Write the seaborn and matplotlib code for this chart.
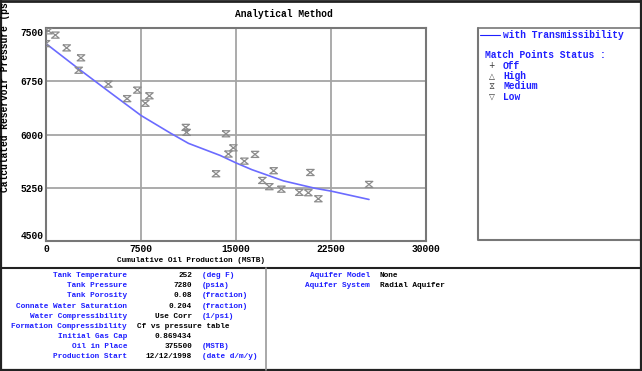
import numpy as np
import pandas as pd
import matplotlib
matplotlib.use("Agg")
import matplotlib.pyplot as plt
from matplotlib.path import Path
from matplotlib.lines import Line2D
from matplotlib import font_manager
from matplotlib.font_manager import FontProperties
import seaborn as sns

# ---------------- data ----------------
match_x = [200, 740, 0, 1630, 2760, 2580, 4920, 6400, 7210, 7840, 8160,
           11030, 11100, 14210, 13420, 14400, 14790, 15660, 16500, 17080,
           17630, 17970, 18580, 20000, 20710, 20870, 21500, 25500]
match_y = [7460, 7400, 7280, 7220, 7080, 6905, 6710, 6505, 6625, 6440, 6545,
           6100, 6030, 6010, 5447, 5725, 5812, 5625, 5720, 5353,
           5265, 5490, 5230, 5185, 5180, 5465, 5095, 5297]

line_x = [0, 2500, 5000, 7500, 9800, 11250, 13750, 15000, 16250, 18750, 21250, 22500, 25500]
line_y = [7280, 6935, 6600, 6268, 6022, 5875, 5705, 5600, 5505, 5347, 5242, 5203, 5085]

x_ticks = [0, 7500, 15000, 22500, 30000]
y_ticks = [4500, 5250, 6000, 6750, 7500]

table_labels = ["Tank Temperature", "Tank Pressure", "Tank Porosity",
                "Connate Water Saturation", "Water Compressibility",
                "Formation Compressibility", "Initial Gas Cap", "Oil in Place",
                "Production Start"]
table_values = ["252", "7280", "0.08", "0.204", "Use Corr", "Cf vs pressure table",
                "0.869434", "375500", "12/12/1998"]
table_units = ["(deg F)", "(psia)", "(fraction)", "(fraction)", "(1/psi)", "", "",
               "(MSTB)", "(date d/m/y)"]
aq_labels = ["Aquifer Model", "Aquifer System"]
aq_values = ["None", "Radial Aquifer"]

status_symbols = ["+", "\u25b3", "\u29d6", "\u25bd"]
status_names = ["Off", "High", "Medium", "Low"]

# find an installed font file that has a given glyph
def file_with_glyph(ch):
    try:
        from fontTools.ttLib import TTFont
    except Exception:
        return None
    cp = ord(ch)
    cands = []
    for fe in font_manager.fontManager.ttflist:
        try:
            f = TTFont(fe.fname, fontNumber=0, lazy=True)
            cmap = f.getBestCmap()
            if cmap and cp in cmap:
                cands.append(fe)
        except Exception:
            continue
    if not cands:
        return None
    # prefer a regular-weight DejaVu file if present
    cands.sort(key=lambda e: (0 if "DejaVu" in e.name else 1,
                              0 if e.weight in (400, "normal", "regular") else 1))
    return cands[0].fname

# ---------------- style ----------------
sns.set_theme(style="white")
plt.rcParams["font.family"] = ["Liberation Mono", "DejaVu Sans Mono", "DejaVu Sans"]
plt.rcParams["font.weight"] = "bold"

W, H = 642, 371
fig = plt.figure(figsize=(W / 100, H / 100), dpi=100)
fig.patch.set_facecolor("white")

def fx(px):
    return px / W

def fy(py):
    return 1 - py / H

ax = fig.add_axes([fx(46), fy(241), fx(426) - fx(46), fy(28) - fy(241)])

df_line = pd.DataFrame({"x": line_x, "y": line_y})
df_pts = pd.DataFrame({"x": match_x, "y": match_y})

hourglass = Path([(-1, 0.8), (1, 0.8), (-1, -0.8), (1, -0.8), (-1, 0.8)],
                 [Path.MOVETO, Path.LINETO, Path.LINETO, Path.LINETO, Path.LINETO])

sns.lineplot(data=df_line, x="x", y="y", ax=ax, color="#6b6bff", lw=1.2, zorder=3)
sns.scatterplot(data=df_pts, x="x", y="y", ax=ax, marker=hourglass, s=30,
                color="#8c8c8c", linewidth=0.9, zorder=4)
for c in ax.collections:
    c.set_facecolor("none")
    c.set_edgecolor("#8c8c8c")

ax.set_xlim(0, 30000)
ax.set_ylim(4500, 7500)
ax.set_xticks(x_ticks)
ax.set_yticks(y_ticks)
ax.set_xticklabels([str(v) for v in x_ticks], fontsize=6.9, fontweight="bold")
ax.set_yticklabels([str(v) for v in y_ticks], fontsize=6.9, fontweight="bold")
ylabs = ax.get_yticklabels()
ylabs[0].set_va("bottom")
ylabs[-1].set_va("top")
ax.tick_params(axis="both", length=0, pad=2, colors="black")
ax.grid(True, color="#a5a5a5", lw=1.3)
ax.set_axisbelow(True)
for s in ax.spines.values():
    s.set_color("#777777")
    s.set_linewidth(1.5)
ax.set_xlabel("")
ax.set_ylabel("")

# titles / axis labels
fig.text(fx(284), fy(14), "Analytical Method", ha="center", va="center",
         fontsize=6.9, fontweight="bold", color="black")
fig.text(fx(191), fy(261), "Cumulative Oil Production (MSTB)", ha="center", va="center",
         fontsize=5.6, fontweight="bold", color="black")
fig.text(fx(5), fy(192), "Calculated Reservoir Pressure (ps", ha="center", va="bottom",
         rotation=90, fontsize=6.9, fontweight="bold", color="black")

blue = "#1f1fff"

# legend box
fig.add_artist(Line2D([fx(478), fx(478), fx(641)], [fy(28), fy(240), fy(240)],
                      color="#777777", lw=1.5, transform=fig.transFigure))
fig.add_artist(Line2D([fx(478), fx(641)], [fy(28), fy(28)],
                      color="#777777", lw=1.2, transform=fig.transFigure))
fig.add_artist(Line2D([fx(480), fx(500)], [fy(35), fy(35)],
                      color=blue, lw=0.8, transform=fig.transFigure))
fig.text(fx(503), fy(35), "with Transmissibility", ha="left", va="center",
         fontsize=6.9, fontweight="bold", color=blue)
fig.text(fx(485), fy(55), "Match Points Status :", ha="left", va="center",
         fontsize=6.9, fontweight="bold", color=blue)
for i, (sym, nm) in enumerate(zip(status_symbols, status_names)):
    yy = 65.7 + i * 10.3
    fpath = file_with_glyph(sym)
    if fpath is not None:
        fp = FontProperties(fname=fpath, size=5.5)
        fig.text(fx(491.5), fy(yy), sym, ha="center", va="center",
                 fontproperties=fp, color="#333333")
    else:
        # symbol absent from every installed family: draw its shape
        fig.add_artist(Line2D([fx(491.5)], [fy(yy)], marker=hourglass, ms=5,
                              mfc="none", mec="#333333", mew=0.9, ls="none",
                              transform=fig.transFigure))
    fig.text(fx(503), fy(yy), nm, ha="left", va="center",
             fontsize=6.9, fontweight="bold", color=blue)

# frame lines
fig.add_artist(Line2D([0, 1], [fy(0.8), fy(0.8)], color="#222222", lw=2.0,
                      transform=fig.transFigure))
fig.add_artist(Line2D([fx(0.8), fx(0.8)], [0, 1], color="#222222", lw=1.6,
                      transform=fig.transFigure))
fig.add_artist(Line2D([fx(640.5), fx(640.5)], [0, 1], color="#222222", lw=1.6,
                      transform=fig.transFigure))
fig.add_artist(Line2D([0, 1], [fy(370), fy(370)], color="#222222", lw=1.6,
                      transform=fig.transFigure))
fig.add_artist(Line2D([0, 1], [fy(268), fy(268)], color="#222222", lw=1.5,
                      transform=fig.transFigure))
fig.add_artist(Line2D([fx(266), fx(266)], [fy(268), fy(370)], color="#999999", lw=1.2,
                      transform=fig.transFigure))

# table
for i in range(len(table_labels)):
    yy = 275.7 + i * 10.1
    fig.text(fx(127), fy(yy), table_labels[i], ha="right", va="center",
             fontsize=5.6, fontweight="bold", color=blue)
    if table_values[i] == "Cf vs pressure table":
        fig.text(fx(137), fy(yy), table_values[i], ha="left", va="center",
                 fontsize=5.6, fontweight="bold", color="black")
    else:
        fig.text(fx(192), fy(yy), table_values[i], ha="right", va="center",
                 fontsize=5.6, fontweight="bold", color="black")
    if table_units[i]:
        fig.text(fx(202), fy(yy), table_units[i], ha="left", va="center",
                 fontsize=5.6, fontweight="bold", color=blue)
for i in range(len(aq_labels)):
    yy = 275.7 + i * 10.1
    fig.text(fx(370), fy(yy), aq_labels[i], ha="right", va="center",
             fontsize=5.6, fontweight="bold", color=blue)
    fig.text(fx(380), fy(yy), aq_values[i], ha="left", va="center",
             fontsize=5.6, fontweight="bold", color="black")

fig.savefig("out.png", dpi=100)
